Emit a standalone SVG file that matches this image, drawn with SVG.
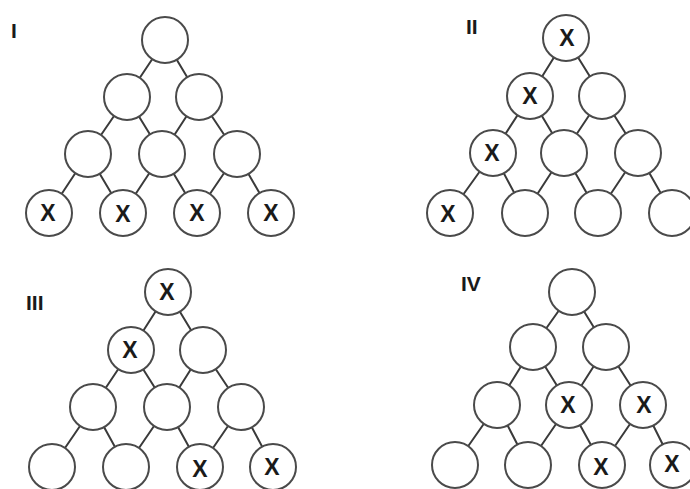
<svg xmlns="http://www.w3.org/2000/svg" width="690" height="489" viewBox="0 0 690 489">
<style>
.c{fill:#fff;stroke:#4a4a4a;stroke-width:2}
.e{stroke:#3a3a3a;stroke-width:2;fill:none}
.x{font-family:"Liberation Sans",Arial,sans-serif;font-weight:bold;font-size:23px;fill:#1a1a1a;text-anchor:middle}
.l{font-family:"Liberation Sans",Arial,sans-serif;font-weight:bold;font-size:21px;fill:#1a1a1a}
</style>
<rect width="690" height="489" fill="#fff"/>
<g id="connectors">
<path class="e" d="M165,40L127,97M165,40L199,97M127,97L88,154M127,97L162,154M199,97L162,154M199,97L237,154M88,154L49,213M88,154L123,213M162,154L123,213M162,154L197,213M237,154L197,213M237,154L271,213"/>
<path class="e" d="M566,38L530,96M566,38L602,96M530,96L493,153M530,96L564,153M602,96L564,153M602,96L638,153M493,153L450,213M493,153L525,213M564,153L525,213M564,153L598,213M638,153L598,213M638,153L672,213"/>
<path class="e" d="M168,292L131,350M168,292L203,350M131,350L93,407M131,350L167,407M203,350L167,407M203,350L241,407M93,407L52,467M93,407L126,467M167,407L126,467M167,407L200,467M241,407L200,467M241,407L273,467"/>
<path class="e" d="M572,292L533,347M572,292L606,347M533,347L497,405M533,347L569,405M606,347L569,405M606,347L643,405M497,405L455,465M497,405L528,465M569,405L528,465M569,405L602,465M643,405L602,465M643,405L673,465"/>
</g>
<g id="labels">
<text class="l" x="11" y="38">I</text>
<text class="l" x="466" y="34">II</text>
<text class="l" x="26" y="310">III</text>
<text class="l" x="461" y="291">IV</text>
</g>
<g id="tri-I">
<g id="I-1"><circle class="c" cx="165" cy="40" r="23"/></g>
<g id="I-2"><circle class="c" cx="127" cy="97" r="23"/></g>
<g id="I-3"><circle class="c" cx="199" cy="97" r="23"/></g>
<g id="I-4"><circle class="c" cx="88" cy="154" r="23"/></g>
<g id="I-5"><circle class="c" cx="162" cy="154" r="23"/></g>
<g id="I-6"><circle class="c" cx="237" cy="154" r="23"/></g>
<g id="I-7"><circle class="c" cx="49" cy="213" r="23"/><text class="x" x="48" y="221">X</text></g>
<g id="I-8"><circle class="c" cx="123" cy="213" r="23"/><text class="x" x="123" y="222">X</text></g>
<g id="I-9"><circle class="c" cx="197" cy="213" r="23"/><text class="x" x="197" y="221">X</text></g>
<g id="I-10"><circle class="c" cx="271" cy="213" r="23"/><text class="x" x="271" y="221">X</text></g>
</g>
<g id="tri-II">
<g id="II-1"><circle class="c" cx="566" cy="38" r="23"/><text class="x" x="567" y="46">X</text></g>
<g id="II-2"><circle class="c" cx="530" cy="96" r="23"/><text class="x" x="530" y="104">X</text></g>
<g id="II-3"><circle class="c" cx="602" cy="96" r="23"/></g>
<g id="II-4"><circle class="c" cx="493" cy="153" r="23"/><text class="x" x="492" y="161">X</text></g>
<g id="II-5"><circle class="c" cx="564" cy="153" r="23"/></g>
<g id="II-6"><circle class="c" cx="638" cy="153" r="23"/></g>
<g id="II-7"><circle class="c" cx="450" cy="213" r="23"/><text class="x" x="448" y="222">X</text></g>
<g id="II-8"><circle class="c" cx="525" cy="213" r="23"/></g>
<g id="II-9"><circle class="c" cx="598" cy="213" r="23"/></g>
<g id="II-10"><circle class="c" cx="672" cy="213" r="23"/></g>
</g>
<g id="tri-III">
<g id="III-1"><circle class="c" cx="168" cy="292" r="23"/><text class="x" x="167" y="300">X</text></g>
<g id="III-2"><circle class="c" cx="131" cy="350" r="23"/><text class="x" x="130" y="358">X</text></g>
<g id="III-3"><circle class="c" cx="203" cy="350" r="23"/></g>
<g id="III-4"><circle class="c" cx="93" cy="407" r="23"/></g>
<g id="III-5"><circle class="c" cx="167" cy="407" r="23"/></g>
<g id="III-6"><circle class="c" cx="241" cy="407" r="23"/></g>
<g id="III-7"><circle class="c" cx="52" cy="467" r="23"/></g>
<g id="III-8"><circle class="c" cx="126" cy="467" r="23"/></g>
<g id="III-9"><circle class="c" cx="200" cy="467" r="23"/><text class="x" x="200" y="477">X</text></g>
<g id="III-10"><circle class="c" cx="273" cy="467" r="23"/><text class="x" x="272" y="475">X</text></g>
</g>
<g id="tri-IV">
<g id="IV-1"><circle class="c" cx="572" cy="292" r="23"/></g>
<g id="IV-2"><circle class="c" cx="533" cy="347" r="23"/></g>
<g id="IV-3"><circle class="c" cx="606" cy="347" r="23"/></g>
<g id="IV-4"><circle class="c" cx="497" cy="405" r="23"/></g>
<g id="IV-5"><circle class="c" cx="569" cy="405" r="23"/><text class="x" x="568" y="413">X</text></g>
<g id="IV-6"><circle class="c" cx="643" cy="405" r="23"/><text class="x" x="644" y="413">X</text></g>
<g id="IV-7"><circle class="c" cx="455" cy="465" r="23"/></g>
<g id="IV-8"><circle class="c" cx="528" cy="465" r="23"/></g>
<g id="IV-9"><circle class="c" cx="602" cy="465" r="23"/><text class="x" x="601" y="475">X</text></g>
<g id="IV-10"><circle class="c" cx="673" cy="465" r="23"/><text class="x" x="672" y="472">X</text></g>
</g>
</svg>
